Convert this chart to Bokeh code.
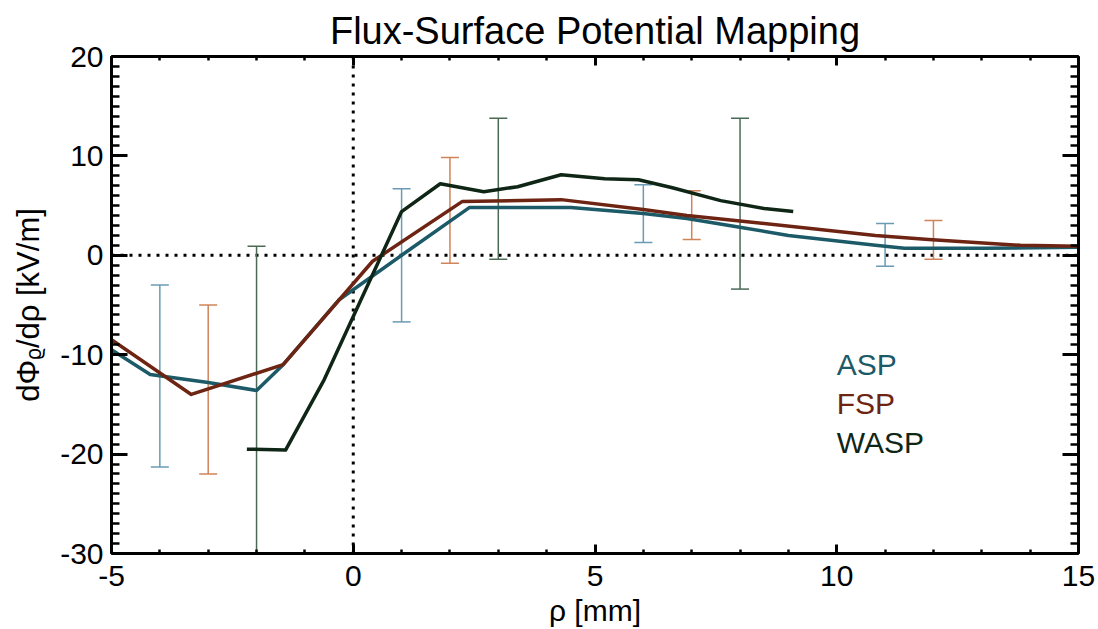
from bokeh.plotting import figure
from bokeh.models import (LinearAxis, SingleIntervalTicker, Span, Whisker, TeeHead,
                          ColumnDataSource, Label, Range1d, PrintfTickFormatter,
                          CustomJSTickFormatter)
from bokeh.embed import file_html
from bokeh.resources import INLINE

# ---- data ----
asp_x = [-5.0, -4.2, -3.0, -2.0, -1.45, -0.3, 1.0, 2.4, 4.5, 6.0, 6.9, 7.9, 9.0, 10.8, 11.4, 13.0, 15.0]
asp_y = [-9.5, -12.0, -12.8, -13.6, -11.0, -4.5, 0.0, 4.8, 4.8, 4.2, 3.7, 2.9, 2.0, 1.0, 0.7, 0.7, 0.8]
fsp_x = [-5.0, -3.35, -1.45, 0.4, 2.25, 4.3, 6.0, 6.9, 7.9, 10.8, 11.9, 13.8, 15.0]
fsp_y = [-8.5, -14.0, -11.0, -0.6, 5.4, 5.6, 4.6, 4.0, 3.5, 2.0, 1.6, 1.0, 0.9]
wasp_x = [-2.2, -1.4, -0.6, 1.0, 1.8, 2.7, 3.4, 4.3, 5.2, 5.9, 6.6, 7.6, 8.5, 9.1]
wasp_y = [-19.5, -19.6, -12.5, 4.4, 7.2, 6.4, 6.9, 8.1, 7.7, 7.6, 6.8, 5.5, 4.7, 4.4]

asp_err_x = [-4, 1, 6, 11]
asp_err_hi = [-3.0, 6.7, 7.1, 3.2]
asp_err_lo = [-21.3, -6.7, 1.3, -1.1]
fsp_err_x = [-3, 2, 7, 12]
fsp_err_hi = [-5.0, 9.85, 6.5, 3.5]
fsp_err_lo = [-22.0, -0.8, 1.6, -0.4]
wasp_err_x = [-2, 3, 8]
wasp_err_hi = [0.9, 13.8, 13.8]
wasp_err_lo = [-30.5, -0.4, -3.4]

series_names = ["ASP", "FSP", "WASP"]
line_colors = ["#1d5a68", "#6e2412", "#0f2616"]
err_colors = ["#6a9ab4", "#d0845a", "#4a6a55"]

FONT = "Liberation Sans"

p = figure(width=1098, height=629, output_backend="svg", toolbar_location=None,
           x_range=Range1d(-5, 15), y_range=Range1d(-30, 20),
           min_border_left=111, min_border_right=20, min_border_top=56, min_border_bottom=75,
           x_axis_label="ρ [mm]", y_axis_label="dΦᵨ/dρ [kV/m]")
p.xgrid.visible = False
p.ygrid.visible = False
p.outline_line_color = None
p.background_fill_color = "white"
p.border_fill_color = "white"

p.title.text = "Flux-Surface Potential Mapping"
p.title.align = "center"
p.title.text_font = FONT
p.title.text_font_size = "38px"
p.title.text_font_style = "normal"
p.title.text_color = "black"
p.title.standoff = 10


def style_axis(ax, major_len, minor_len, labels=True):
    ax.axis_line_width = 3
    ax.axis_line_color = "black"
    ax.major_tick_in = major_len
    ax.major_tick_out = 0
    ax.minor_tick_in = minor_len
    ax.minor_tick_out = 0
    ax.major_tick_line_width = 3
    ax.minor_tick_line_width = 2.5
    ax.major_tick_line_color = "black"
    ax.minor_tick_line_color = "black"
    ax.major_label_text_font = FONT
    ax.major_label_text_color = "black"
    ax.axis_label_text_font = FONT
    ax.axis_label_text_font_style = "normal"
    ax.axis_label_text_color = "black"
    if labels:
        ax.formatter = PrintfTickFormatter(format="%d")
        ax.major_label_text_font_size = "30px"
    else:
        ax.formatter = CustomJSTickFormatter(code="return ''")
        ax.major_label_standoff = 0


xt = SingleIntervalTicker(interval=5, num_minor_ticks=5)
yt = SingleIntervalTicker(interval=10, num_minor_ticks=10)

p.xaxis.ticker = xt
p.yaxis.ticker = yt
style_axis(p.xaxis[0], 9, 4)
style_axis(p.yaxis[0], 16, 8)
p.xaxis.major_label_standoff = 12
p.xaxis.axis_label_standoff = 5
p.xaxis.axis_label_text_font_size = "30px"
p.yaxis.major_label_standoff = 8
p.yaxis.axis_label_standoff = 11
p.yaxis.axis_label_text_font_size = "31px"

top_ax = LinearAxis(ticker=SingleIntervalTicker(interval=5, num_minor_ticks=5))
style_axis(top_ax, 9, 4, labels=False)
p.add_layout(top_ax, "above")
right_ax = LinearAxis(ticker=SingleIntervalTicker(interval=10, num_minor_ticks=10))
style_axis(right_ax, 16, 8, labels=False)
p.add_layout(right_ax, "right")

# dotted zero lines
p.add_layout(Span(location=0, dimension="width", line_color="black", line_width=3,
                  line_dash="3 6", level="underlay"))
p.add_layout(Span(location=0, dimension="height", line_color="black", line_width=3,
                  line_dash="3 6", level="underlay"))

# error bars
for ex, hi, lo, c in [(asp_err_x, asp_err_hi, asp_err_lo, err_colors[0]),
                      (fsp_err_x, fsp_err_hi, fsp_err_lo, err_colors[1]),
                      (wasp_err_x, wasp_err_hi, wasp_err_lo, err_colors[2])]:
    src = ColumnDataSource(dict(x=ex, upper=hi, lower=lo))
    w = Whisker(source=src, base="x", upper="upper", lower="lower",
                line_color=c, line_width=1.5, level="underlay",
                upper_head=TeeHead(size=18, line_color=c, line_width=1.5),
                lower_head=TeeHead(size=18, line_color=c, line_width=1.5))
    p.add_layout(w)

# lines
for xs, ys, c in [(asp_x, asp_y, line_colors[0]), (fsp_x, fsp_y, line_colors[1]),
                  (wasp_x, wasp_y, line_colors[2])]:
    p.line(xs, ys, line_color=c, line_width=3.5, line_join="round")

# legend text
legend_y = [-11.0, -14.9, -18.8]
for name, c, ly in zip(series_names, line_colors, legend_y):
    p.add_layout(Label(x=10.0, y=ly, text=name, text_color=c, text_font=FONT,
                       text_font_size="30px", text_baseline="alphabetic",
                       text_align="left"))

open("out.html", "w").write(file_html(p, INLINE))
